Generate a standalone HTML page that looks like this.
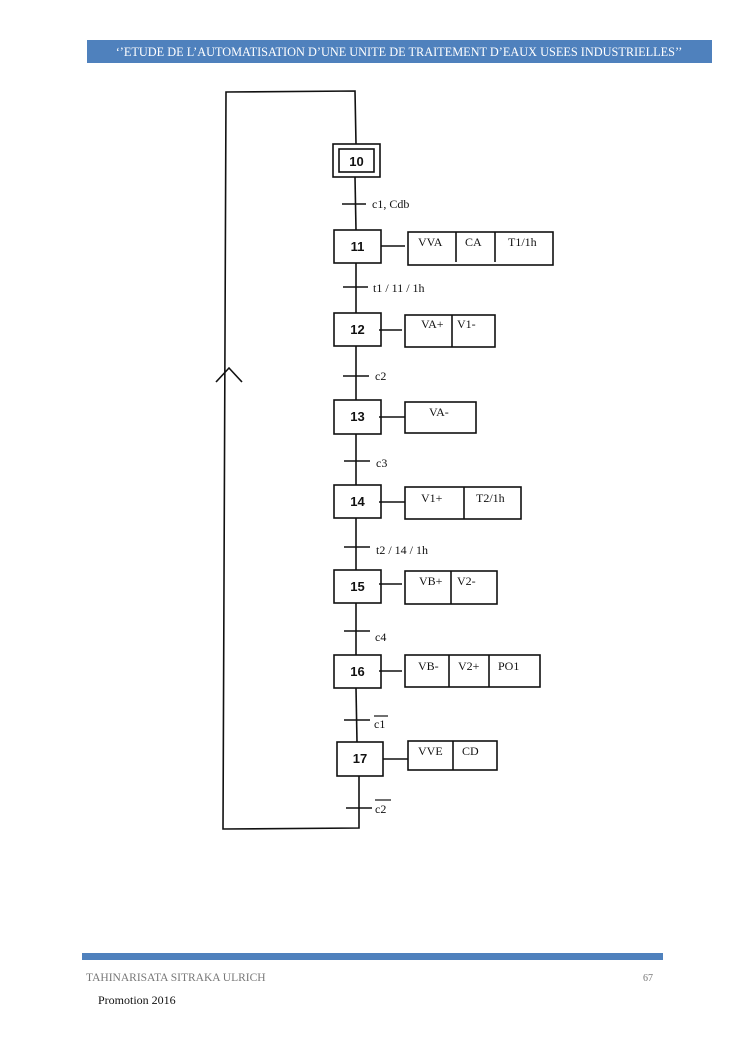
<!DOCTYPE html>
<html><head><meta charset="utf-8"><style>
html,body{margin:0;padding:0;background:#fff;width:745px;height:1053px;overflow:hidden}
svg{display:block}
.n{font-family:"Liberation Sans",sans-serif;font-weight:bold;font-size:13px;fill:#111}
.a{font-family:"Liberation Serif",serif;font-size:12px;fill:#111}
</style></head><body>
<svg width="745" height="1053" viewBox="0 0 745 1053" xmlns="http://www.w3.org/2000/svg">
<rect x="87" y="40" width="625" height="23" fill="#4f81bd"/>
<text x="399" y="56" text-anchor="middle" font-family="Liberation Serif,serif" font-size="12.3" fill="#fff">‘’ETUDE DE L’AUTOMATISATION D’UNE UNITE DE TRAITEMENT D’EAUX USEES INDUSTRIELLES’’</text>

<g stroke="#111" stroke-width="1.6" fill="none">
<polyline points="356,144 355,91 226,92 223,829 359,828 359,776"/>
<polyline points="216,382 229,368 242,382"/>
<line x1="355" y1="177" x2="356" y2="230"/>
<line x1="356" y1="263" x2="356" y2="313"/>
<line x1="356" y1="346" x2="356" y2="400"/>
<line x1="356" y1="434" x2="356" y2="485"/>
<line x1="356" y1="518" x2="356" y2="570"/>
<line x1="356" y1="603" x2="356" y2="655"/>
<line x1="356" y1="688" x2="357" y2="742"/>
<line x1="342" y1="204" x2="366" y2="204"/>
<line x1="343" y1="287" x2="368" y2="287"/>
<line x1="343" y1="376" x2="369" y2="376"/>
<line x1="344" y1="461" x2="370" y2="461"/>
<line x1="344" y1="547" x2="370" y2="547"/>
<line x1="344" y1="631" x2="370" y2="631"/>
<line x1="344" y1="720" x2="370" y2="720"/>
<line x1="346" y1="808" x2="372" y2="808"/>
<rect x="333" y="144" width="47" height="33"/>
<rect x="339" y="149" width="35" height="23"/>
<rect x="334" y="230" width="47" height="33"/>
<rect x="334" y="313" width="47" height="33"/>
<rect x="334" y="400" width="47" height="34"/>
<rect x="334" y="485" width="47" height="33"/>
<rect x="334" y="570" width="47" height="33"/>
<rect x="334" y="655" width="47" height="33"/>
<rect x="337" y="742" width="46" height="34"/>
<line x1="381" y1="246" x2="405" y2="246"/>
<line x1="379" y1="330" x2="402" y2="330"/>
<line x1="379" y1="417" x2="405" y2="417"/>
<line x1="379" y1="502" x2="405" y2="502"/>
<line x1="379" y1="584" x2="402" y2="584"/>
<line x1="379" y1="671" x2="402" y2="671"/>
<line x1="383" y1="759" x2="408" y2="759"/>
<rect x="408" y="232" width="145" height="33"/><line x1="456" y1="232" x2="456" y2="262"/><line x1="495" y1="232" x2="495" y2="262"/>
<rect x="405" y="315" width="90" height="32"/><line x1="452" y1="315" x2="452" y2="347"/>
<rect x="405" y="402" width="71" height="31"/>
<rect x="405" y="487" width="116" height="32"/><line x1="464" y1="487" x2="464" y2="519"/>
<rect x="405" y="571" width="92" height="33"/><line x1="451" y1="571" x2="451" y2="604"/>
<rect x="405" y="655" width="135" height="32"/><line x1="449" y1="655" x2="449" y2="687"/><line x1="489" y1="655" x2="489" y2="687"/>
<rect x="408" y="741" width="89" height="29"/><line x1="453" y1="741" x2="453" y2="770"/>
<line x1="374" y1="716" x2="388" y2="716" stroke-width="1.2"/>
<line x1="375" y1="800" x2="391" y2="800" stroke-width="1.2"/>
</g>

<text class="n" x="356.5" y="166" text-anchor="middle">10</text>
<text class="n" x="357.5" y="251" text-anchor="middle">11</text>
<text class="n" x="357.5" y="334" text-anchor="middle">12</text>
<text class="n" x="357.5" y="421" text-anchor="middle">13</text>
<text class="n" x="357.5" y="506" text-anchor="middle">14</text>
<text class="n" x="357.5" y="591" text-anchor="middle">15</text>
<text class="n" x="357.5" y="676" text-anchor="middle">16</text>
<text class="n" x="360" y="763" text-anchor="middle">17</text>

<g class="a">
<text x="372" y="208">c1, Cdb</text>
<text x="373" y="292">t1 / 11 / 1h</text>
<text x="375" y="380">c2</text>
<text x="376" y="467">c3</text>
<text x="376" y="554">t2 / 14 / 1h</text>
<text x="375" y="641">c4</text>
<text x="374" y="728">c1</text>
<text x="375" y="813">c2</text>
<text x="418" y="246">VVA</text><text x="465" y="246">CA</text><text x="508" y="246">T1/1h</text>
<text x="421" y="328">VA+</text><text x="457" y="328">V1-</text>
<text x="429" y="416">VA-</text>
<text x="421" y="502">V1+</text><text x="476" y="502">T2/1h</text>
<text x="419" y="585">VB+</text><text x="457" y="585">V2-</text>
<text x="418" y="670">VB-</text><text x="458" y="670">V2+</text><text x="498" y="670">PO1</text>
<text x="418" y="755">VVE</text><text x="462" y="755">CD</text>
</g>

<rect x="82" y="953" width="581" height="7" fill="#4f81bd"/>
<text x="86" y="981" font-family="Liberation Serif,serif" font-size="11.5" fill="#777">TAHINARISATA SITRAKA ULRICH</text>
<text x="653" y="981" text-anchor="end" font-family="Liberation Serif,serif" font-size="10" fill="#777">67</text>
<text x="98" y="1004" font-family="Liberation Serif,serif" font-size="12" fill="#111">Promotion 2016</text>
</svg>
</body></html>
